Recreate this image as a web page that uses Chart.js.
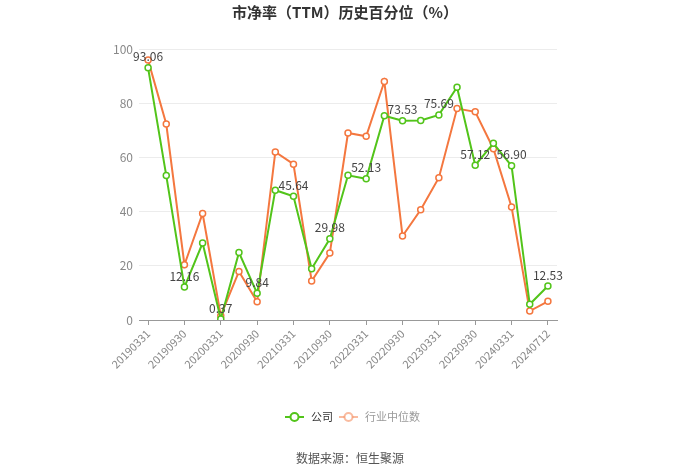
<!DOCTYPE html>
<html>
<head>
<meta charset="utf-8">
<script src="https://cdn.jsdelivr.net/npm/chart.js@4"></script>
<style>
  html, body { margin: 0; padding: 0; background: #fff; }
  #wrap { width: 700px; height: 474px; }
</style>
</head>
<body>
<div id="wrap"><canvas id="pbChart" width="700" height="474"></canvas></div>
<script>
// 日期（报告期）
const dates = ['20190331', '20190630', '20190930', '20191231', '20200331', '20200630', '20200930', '20201231',
    '20210331', '20210630', '20210930', '20211231', '20220331', '20220630', '20220930', '20221231',
    '20230331', '20230630', '20230930', '20231231', '20240331', '20240630', '20240712'];
// 公司
const companyValues = [93.06, 53.3, 12.16, 28.4, 0.37, 24.9, 9.84, 47.9, 45.64, 18.9, 29.98, 53.4,
    52.13, 75.4, 73.53, 73.6, 75.69, 85.9, 57.12, 65.2, 56.90, 5.8, 12.53];
// 行业中位数
const industryValues = [95.9, 72.3, 20.4, 39.3, 1.6, 17.9, 6.7, 62.0, 57.5, 14.4, 24.7, 69.0,
    67.8, 88.0, 31.0, 40.7, 52.5, 78.0, 76.8, 63.2, 41.7, 3.3, 6.9];
const yTicks = [0, 20, 40, 60, 80, 100];

const GREEN = '#52c41a';
const ORANGE = '#f4773f';
const FONT = '"Noto Sans CJK SC", "Noto Sans", sans-serif';

// 标题、图例、数据来源、数值标签
const decorPlugin = {
    id: 'decor',
    afterDatasetsDraw(chart) {
        const ctx = chart.ctx;
        ctx.save();

        // 公司数值标签（隔一个点显示）
        const meta = chart.getDatasetMeta(0);
        ctx.font = '12px ' + FONT;
        ctx.fillStyle = '#444';
        ctx.textAlign = 'center';
        ctx.textBaseline = 'bottom';
        meta.data.forEach(function (pt, i) {
            if (i % 2 !== 0) return;
            ctx.fillText(companyValues[i].toFixed(2), pt.x, pt.y - 5);
        });

        // 标题
        ctx.font = 'bold 15px ' + FONT;
        ctx.fillStyle = '#333';
        ctx.textBaseline = 'middle';
        ctx.fillText('市净率（TTM）历史百分位（%）', 345, 12);

        // 图例
        const items = [
            { text: '公司', color: GREEN, textColor: '#333', x: 285 },
            { text: '行业中位数', color: 'rgba(244,119,63,0.5)', textColor: '#999', x: 339 }
        ];
        const ly = 417;
        ctx.font = '11px ' + FONT;
        ctx.textAlign = 'left';
        items.forEach(function (it) {
            ctx.strokeStyle = it.color;
            ctx.lineWidth = 2;
            ctx.beginPath();
            ctx.moveTo(it.x, ly);
            ctx.lineTo(it.x + 19, ly);
            ctx.stroke();
            ctx.beginPath();
            ctx.arc(it.x + 9.5, ly, 4, 0, Math.PI * 2);
            ctx.fillStyle = '#fff';
            ctx.fill();
            ctx.stroke();
            ctx.fillStyle = it.textColor;
            ctx.fillText(it.text, it.x + 26, ly);
        });

        // 数据来源
        ctx.textAlign = 'center';
        ctx.fillStyle = '#555';
        ctx.font = '12px ' + FONT;
        ctx.fillText('数据来源：恒生聚源', 350, 458);

        ctx.restore();
    }
};

const ctx = document.getElementById('pbChart').getContext('2d');
new Chart(ctx, {
    type: 'line',
    data: {
        labels: dates,
        datasets: [{
            label: '公司',
            data: companyValues,
            borderColor: GREEN,
            backgroundColor: '#fff',
            borderWidth: 2,
            pointRadius: 3,
            pointBorderWidth: 1.5,
            pointBackgroundColor: '#fff',
            pointBorderColor: GREEN,
            tension: 0
        }, {
            label: '行业中位数',
            data: industryValues,
            borderColor: ORANGE,
            backgroundColor: '#fff',
            borderWidth: 2,
            pointRadius: 3,
            pointBorderWidth: 1.5,
            pointBackgroundColor: '#fff',
            pointBorderColor: ORANGE,
            tension: 0
        }]
    },
    options: {
        responsive: false,
        animation: false,
        layout: { padding: { top: 49, left: 0, right: 143, bottom: 94 } },
        plugins: {
            legend: { display: false },
            title: { display: false },
            tooltip: { enabled: false }
        },
        scales: {
            x: {
                offset: true,
                afterFit(scale) { scale.height = 60; },
                border: { display: true, color: '#999', width: 1 },
                grid: {
                    offset: false,
                    drawOnChartArea: false,
                    drawTicks: true,
                    tickLength: 5,
                    tickColor: function (c) { return c.index % 2 === 0 ? '#999' : 'rgba(0,0,0,0)'; }
                },
                ticks: {
                    autoSkip: false,
                    maxRotation: 45,
                    minRotation: 45,
                    padding: 2,
                    color: '#888',
                    font: { size: 11, family: FONT },
                    callback: function (v, i) { return i % 2 === 0 ? dates[i] : ''; }
                }
            },
            y: {
                min: 0,
                max: 100,
                afterFit(scale) { scale.width = 139; },
                afterBuildTicks(scale) { scale.ticks = yTicks.map(function (v) { return { value: v }; }); },
                border: { display: false },
                grid: { color: '#ececec', drawTicks: false },
                ticks: {
                    padding: 6,
                    color: '#888',
                    font: { size: 12, family: FONT }
                }
            }
        }
    },
    plugins: [decorPlugin]
});
</script>
</body>
</html>
